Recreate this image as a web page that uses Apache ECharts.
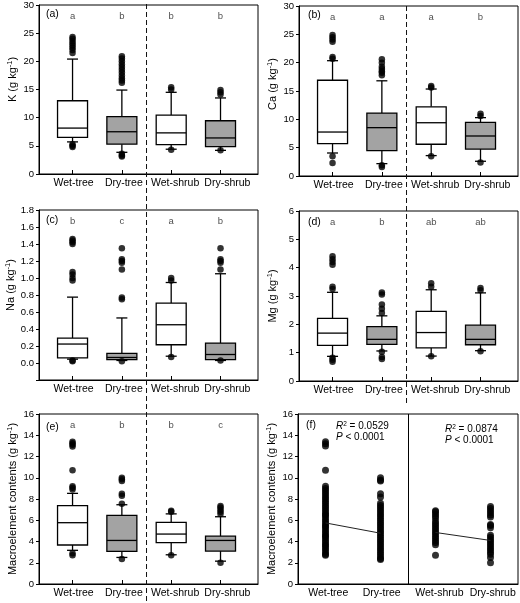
<!DOCTYPE html>
<html><head><meta charset="utf-8">
<script src="https://cdn.jsdelivr.net/npm/echarts@6/dist/echarts.min.js"></script>
<style>html,body{margin:0;padding:0;background:#fff}#c{width:520px;height:603px}</style>
</head><body><div id="c"></div>
<script>
// ---------- data ----------
const groups = ['Wet-tree', 'Dry-tree', 'Wet-shrub', 'Dry-shrub'];

// box stats: [lower whisker, Q1, median, Q3, upper whisker]
const kBox = [[5.7, 6.5, 8.15, 13.0, 20.4], [3.85, 5.3, 7.5, 10.2, 14.9], [4.4, 5.2, 7.3, 10.45, 14.5], [4.2, 4.85, 6.4, 9.45, 13.5]];
const kOut = [[21.5, 22.0, 22.4, 22.8, 23.2, 23.6, 24.0, 24.3, 5.3, 5.0, 4.8], [16.2, 16.6, 17.0, 17.5, 18.0, 18.5, 19.0, 19.5, 20.0, 20.5, 20.9, 3.6, 3.3, 3.1], [15.0, 15.4, 4.3], [14.1, 14.5, 14.9, 4.2]];
const kLetters = ['a', 'b', 'b', 'b'];

const caBox = [[4.06, 5.7, 7.76, 16.9, 20.35], [2.18, 4.47, 8.53, 11.1, 16.8], [3.6, 5.6, 9.4, 12.2, 15.35], [2.6, 4.76, 7.06, 9.47, 10.3]];
const caOut = [[20.7, 21.0, 23.7, 24.1, 24.5, 24.9, 3.5, 2.3], [17.8, 18.2, 18.5, 18.9, 19.3, 20.0, 20.6, 1.9, 1.6], [15.6, 15.9, 3.5], [10.6, 11.0, 2.4]];
const caLetters = ['a', 'a', 'a', 'b'];

const naBox = [[0.045, 0.06, 0.223, 0.293, 0.775], [0.03, 0.04, 0.065, 0.113, 0.53], [0.08, 0.215, 0.45, 0.704, 0.947], [0.03, 0.04, 0.10, 0.235, 1.05]];
const naOut = [[1.40, 1.42, 1.44, 1.46, 0.97, 1.00, 1.04, 1.07, 0.03, 0.02], [1.35, 1.18, 1.20, 1.22, 1.10, 0.75, 0.77, 0.02], [0.97, 1.00, 0.07], [1.35, 1.18, 1.20, 1.22, 1.10, 0.03]];
const naLetters = ['b', 'c', 'a', 'b'];

const mgBox = [[0.87, 1.26, 1.69, 2.21, 3.13], [1.06, 1.29, 1.47, 1.92, 2.3], [0.88, 1.17, 1.71, 2.46, 3.22], [1.07, 1.28, 1.47, 1.97, 3.11]];
const mgOut = [[4.1, 4.2, 4.3, 4.4, 3.25, 3.33, 0.82, 0.75, 0.68], [2.4, 2.55, 2.7, 3.05, 3.12, 1.03, 0.85, 0.78], [3.33, 3.45, 0.87], [3.2, 3.28, 1.05]];
const mgLetters = ['a', 'b', 'ab', 'ab'];

const macBox = [[3.17, 3.67, 5.77, 7.37, 8.53], [2.5, 3.07, 4.1, 6.46, 7.46], [2.75, 3.89, 4.7, 5.8, 6.6], [2.15, 3.1, 4.1, 4.5, 6.33]];
const macOut = [[12.95, 13.1, 13.25, 13.4, 10.7, 8.9, 9.05, 9.2, 2.9, 2.7], [9.7, 9.85, 10.0, 8.3, 8.5, 7.55, 2.35], [6.8, 6.9, 2.7], [6.6, 6.8, 7.0, 7.2, 7.35, 2.0]];
const macLetters = ['a', 'b', 'b', 'c'];

// panel (f): individual macroelement values per group
const macAll = [
  [2.7, 2.8, 3.0, 3.2, 3.4, 3.6, 3.7, 3.9, 4.1, 4.3, 4.5, 4.6, 4.8, 5.0, 5.2, 5.4, 5.5, 5.7, 5.9, 6.1, 6.3, 6.5, 6.6, 6.8, 7.0, 7.2, 7.4, 7.6, 7.8, 8.0, 8.2, 8.4, 8.6, 8.8, 9.0, 9.2, 10.7, 13.0, 13.2, 13.4],
  [2.3, 2.4, 2.6, 2.8, 3.0, 3.2, 3.4, 3.6, 3.8, 4.0, 4.2, 4.4, 4.6, 4.8, 5.0, 5.2, 5.4, 5.6, 5.8, 6.0, 6.2, 6.4, 6.6, 6.8, 7.0, 7.2, 7.4, 7.6, 8.2, 8.5, 9.7, 9.8, 10.0],
  [2.7, 3.7, 3.9, 4.1, 4.3, 4.5, 4.7, 4.9, 5.1, 5.3, 5.5, 5.7, 5.9, 6.2, 6.4, 6.6, 6.8, 6.9],
  [2.0, 2.5, 2.8, 3.0, 3.2, 3.4, 3.6, 3.8, 4.0, 4.2, 4.4, 4.6, 5.3, 5.5, 5.6, 6.3, 6.5, 6.7, 6.9, 7.1, 7.3]
];
// regression fits (fitted value at each group)
const treeFit = [5.75, 4.78];
const shrubFit = [4.85, 4.1];
const statsTree = ['0.0529', '0.0001'];
const statsShrub = ['0.0874', '0.0001'];

// ---------- layout / styling ----------
const FONT = 'Liberation Sans, Arial, sans-serif';
const GRAY = '#a3a3a3';
const panels = [
  { grid: { left: 39, top: 4, width: 219, height: 170 }, y: [0, 30, 5], name: 'K', box: kBox, out: kOut, letters: kLetters, tag: '(a)', dec: 0, shift: 20 },
  { grid: { left: 299, top: 6, width: 219, height: 170 }, y: [0, 30, 5], name: 'Ca', box: caBox, out: caOut, letters: caLetters, tag: '(b)', dec: 0, shift: 14 },
  { grid: { left: 39, top: 210, width: 219, height: 170 }, y: [-0.2, 1.8, 0.2], name: 'Na', box: naBox, out: naOut, letters: naLetters, tag: '(c)', dec: 1, shift: 20 },
  { grid: { left: 299, top: 211, width: 219, height: 170 }, y: [0, 6, 1], name: 'Mg', box: mgBox, out: mgOut, letters: mgLetters, tag: '(d)', dec: 0, shift: 0 },
  { grid: { left: 39, top: 414, width: 219, height: 170 }, y: [0, 16, 2], name: 'Macroelement contents', box: macBox, out: macOut, letters: macLetters, tag: '(e)', dec: 0, shift: 0 },
  { grid: { left: 298, top: 414, width: 220, height: 170 }, y: [0, 16, 2], name: 'Macroelement contents', tag: '(f)', dec: 0, shift: 0, scatter: true }
];
const boxLabelPos = [1.02, 2.04, 3.08, 4.14];
const dotLabelPos = [1.05, 2.02, 3.07, 4.04];

const chart = echarts.init(document.getElementById('c'), null, { renderer: 'canvas' });

function renderBox(params, api) {
  const x = api.value(0);
  const lo = api.coord([x, api.value(1)]);
  const q1 = api.coord([x, api.value(2)]);
  const md = api.coord([x, api.value(3)]);
  const q3 = api.coord([x, api.value(4)]);
  const hi = api.coord([x, api.value(5)]);
  const cx = lo[0], hw = 15, cw = 5.5;
  const fill = (Math.round(x) % 2 === 0) ? GRAY : '#ffffff';
  const ls = { stroke: '#000', lineWidth: 1.3 };
  return {
    type: 'group', children: [
      { type: 'line', shape: { x1: cx, y1: q3[1], x2: cx, y2: hi[1] }, style: ls },
      { type: 'line', shape: { x1: cx, y1: lo[1], x2: cx, y2: q1[1] }, style: ls },
      { type: 'line', shape: { x1: cx - cw, y1: hi[1], x2: cx + cw, y2: hi[1] }, style: ls },
      { type: 'line', shape: { x1: cx - cw, y1: lo[1], x2: cx + cw, y2: lo[1] }, style: ls },
      { type: 'rect', shape: { x: cx - hw, y: q3[1], width: 2 * hw, height: q1[1] - q3[1] }, style: { fill: fill, stroke: '#000', lineWidth: 1.3 } },
      { type: 'line', shape: { x1: cx - hw, y1: md[1], x2: cx + hw, y2: md[1] }, style: ls }
    ]
  };
}

const grids = [], xAxes = [], yAxes = [], series = [];
panels.forEach((p, i) => {
  grids.push(Object.assign({ show: true, borderColor: '#000', borderWidth: 1, backgroundColor: 'transparent' }, p.grid));
  const xr = p.scatter ? [0.5, 4.5] : [0.32, 4.76];
  xAxes.push({
    type: 'value', gridIndex: i, min: xr[0], max: xr[1],
    axisLine: { show: true, onZero: false, lineStyle: { color: '#000', width: 1 } },
    axisTick: { show: !p.scatter, inside: true, length: 4, customValues: [1, 2, 3, 4], lineStyle: { color: '#000' } },
    axisLabel: { customValues: p.scatter ? dotLabelPos : boxLabelPos, formatter: v => groups[Math.round(v) - 1] || '', fontSize: 10.5, color: '#000', margin: 4, fontFamily: FONT },
    splitLine: { show: false }
  });
  yAxes.push({
    type: 'value', gridIndex: i, min: p.y[0], max: p.y[1], interval: p.y[2],
    name: '{n|' + p.name + ' (g kg}{s|-1}{n|)}',
    nameLocation: 'middle', nameRotate: 90, nameGap: 19,
    nameTextStyle: { fontFamily: FONT, color: '#000', padding: [0, 0, 0, p.shift],
      rich: { n: { fontSize: 11, fontFamily: FONT, color: '#000', lineHeight: 14 }, s: { fontSize: 7.5, fontFamily: FONT, color: '#000', verticalAlign: 'top', lineHeight: 14 } } },
    axisLine: { show: true, onZero: false, lineStyle: { color: '#000', width: 1 } },
    axisTick: { show: true, inside: false, length: 3, lineStyle: { color: '#000' } },
    axisLabel: { fontSize: 9.5, color: '#000', margin: 5, fontFamily: FONT, formatter: v => v < -1e-9 ? '' : v.toFixed(p.dec) },
    splitLine: { show: false }
  });

  if (!p.scatter) {
    series.push({
      type: 'custom', xAxisIndex: i, yAxisIndex: i, renderItem: renderBox,
      encode: { x: 0, y: [1, 2, 3, 4, 5] }, z: 2,
      data: p.box.map((b, g) => [g + 1].concat(b))
    });
    const outPts = [];
    p.out.forEach((vals, g) => vals.forEach(v => outPts.push([g + 1, v])));
    series.push({
      type: 'scatter', xAxisIndex: i, yAxisIndex: i, symbolSize: 6.5, z: 3,
      itemStyle: { color: '#000' }, data: outPts
    });
    const yl = p.y[1] - 0.065 * (p.y[1] - p.y[0]);
    series.push({
      type: 'scatter', xAxisIndex: i, yAxisIndex: i, symbolSize: 1, z: 4,
      itemStyle: { color: 'transparent' },
      label: { show: true, position: 'inside', formatter: q => p.letters[q.dataIndex], fontSize: 9.5, color: '#222', fontFamily: FONT },
      data: p.letters.map((l, g) => [g + 1, yl])
    });
  } else {
    const pts = [];
    macAll.forEach((vals, g) => vals.forEach(v => pts.push([g + 1, v])));
    series.push({
      type: 'scatter', xAxisIndex: i, yAxisIndex: i, symbolSize: 7, z: 3,
      itemStyle: { color: '#000' }, data: pts,
      markLine: { silent: true, symbol: 'none', label: { show: false }, lineStyle: { color: '#000', width: 1, type: 'solid' }, data: [{ xAxis: 2.5 }] }
    });
    series.push({
      type: 'line', xAxisIndex: i, yAxisIndex: i, symbol: 'none', z: 4,
      lineStyle: { color: '#222', width: 1 }, data: [[1, treeFit[0]], [2, treeFit[1]]]
    });
    series.push({
      type: 'line', xAxisIndex: i, yAxisIndex: i, symbol: 'none', z: 4,
      lineStyle: { color: '#222', width: 1 }, data: [[3, shrubFit[0]], [4, shrubFit[1]]]
    });
  }
});

chart.setOption({
  animation: false,
  backgroundColor: '#fff',
  textStyle: { fontFamily: FONT },
  grid: grids, xAxis: xAxes, yAxis: yAxes, series: series
});

// ---------- annotations ----------
const graphics = [];
const dash = { stroke: '#111', lineWidth: 1, lineDash: [5, 3] };
const xL = chart.convertToPixel({ gridIndex: 0 }, [2.5, 0])[0];
const xR = chart.convertToPixel({ gridIndex: 1 }, [2.5, 0])[0];
graphics.push({ type: 'line', shape: { x1: xL, y1: 4, x2: xL, y2: 603 }, style: dash, z: 10 });
graphics.push({ type: 'line', shape: { x1: xR, y1: 6, x2: xR, y2: 405 }, style: dash, z: 10 });

const tagPos = [[46, 14], [308, 15], [46, 220], [308, 222], [46, 427], [306, 425]];
panels.forEach((p, i) => {
  graphics.push({ type: 'text', x: tagPos[i][0], y: tagPos[i][1], z: 10,
    style: { text: p.tag, fontSize: 10.5, fontFamily: FONT, fill: '#000', verticalAlign: 'middle', align: 'left' } });
});
const statRich = {
  i: { fontStyle: 'italic', fontSize: 10, fontFamily: FONT, fill: '#000', lineHeight: 11 },
  s: { fontSize: 6.5, fontFamily: FONT, fill: '#000', verticalAlign: 'top', lineHeight: 11 },
  n: { fontSize: 10, fontFamily: FONT, fill: '#000', lineHeight: 11 }
};
function statText(st) { return '{i|R}{s|2}{n| = ' + st[0] + '}\n{i|P}{n| < ' + st[1] + '}'; }
graphics.push({ type: 'text', x: 336, y: 421, z: 10, style: { text: statText(statsTree), rich: statRich, fontFamily: FONT, verticalAlign: 'top' } });
graphics.push({ type: 'text', x: 445, y: 424, z: 10, style: { text: statText(statsShrub), rich: statRich, fontFamily: FONT, verticalAlign: 'top' } });

chart.setOption({ graphic: graphics });
</script></body></html>
